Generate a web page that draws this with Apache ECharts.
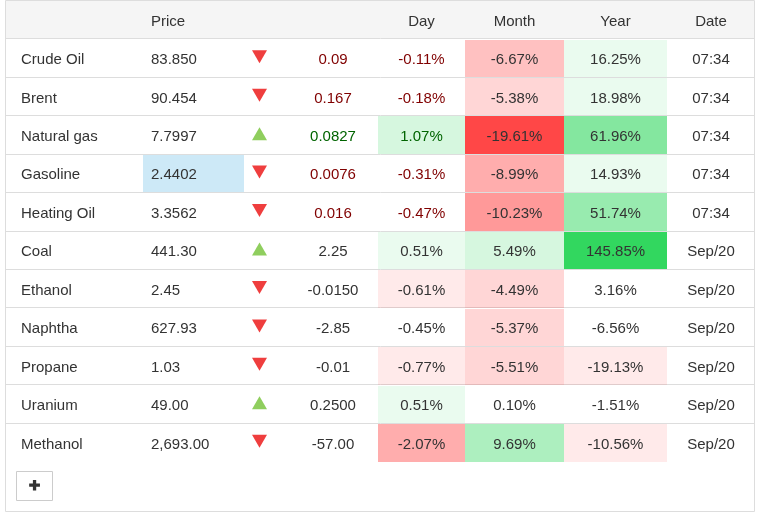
<!DOCTYPE html>
<html lang="en">
<head>
    <meta charset="UTF-8">
    <title>Energy prices</title>
    <script src="https://cdn.jsdelivr.net/npm/echarts@6/dist/echarts.min.js"></script>
    <style>
        html, body { margin: 0; padding: 0; background: #fff; }
    </style>
</head>
<body>
<div id="main" style="width: 760px;height: 518px;"></div>
<script type="text/javascript">
    var names = ['Crude Oil', 'Brent', 'Natural gas', 'Gasoline', 'Heating Oil', 'Coal', 'Ethanol', 'Naphtha', 'Propane', 'Uranium', 'Methanol'];
    var prices = ['83.850', '90.454', '7.7997', '2.4402', '3.3562', '441.30', '2.45', '627.93', '1.03', '49.00', '2,693.00'];
    var trends = ['down', 'down', 'up', 'down', 'down', 'up', 'down', 'down', 'down', 'up', 'down'];
    var changes = ['0.09', '0.167', '0.0827', '0.0076', '0.016', '2.25', '-0.0150', '-2.85', '-0.01', '0.2500', '-57.00'];
    var dayPct = [-0.11, -0.18, 1.07, -0.31, -0.47, 0.51, -0.61, -0.45, -0.77, 0.51, -2.07];
    var monthPct = [-6.67, -5.38, -19.61, -8.99, -10.23, 5.49, -4.49, -5.37, -5.51, 0.10, 9.69];
    var yearPct = [16.25, 18.98, 61.96, 14.93, 51.74, 145.85, 3.16, -6.56, -19.13, -1.51, -10.56];
    var dates = ['07:34', '07:34', '07:34', '07:34', '07:34', 'Sep/20', 'Sep/20', 'Sep/20', 'Sep/20', 'Sep/20', 'Sep/20'];
    var headers = ['Price', 'Day', 'Month', 'Year', 'Date'];

    // layout, x is in page pixels
    var FONT = '"Liberation Sans", Arial, sans-serif';
    var FONT_SIZE = 15;
    var TEXT = '#333333';
    var TEXT_DROP = 2;
    var headerX = [168, 421.5, 514.5, 615.5, 711];
    var nameCol = {left: 6, right: 143, textX: 21};
    var priceCol = {left: 143, right: 244, textX: 151};
    var trendX = 259.5;
    var changeCol = {left: 288, right: 378};
    var dayCol = {left: 378, right: 465};
    var monthCol = {left: 465, right: 564};
    var yearCol = {left: 564, right: 667};
    var dateCol = {left: 667, right: 755};

    // shade goes up one step for every "step" of percent move
    function shade(v, step) {
        var level = Math.min(Math.floor(Math.abs(v) / step), 10);
        if (level === 0) return null;
        var base = v > 0 ? '50,215,95' : '255,51,51';
        return 'rgba(' + base + ',' + level / 10 + ')';
    }

    // row was updated today, so change and day text are coloured
    function liveColor(i, v) {
        if (dates[i] !== '07:34') return TEXT;
        return v > 0 && trends[i] === 'up' ? '#006400' : '#800000';
    }

    var cells = [];
    names.forEach(function (name, i) {
        var chg = parseFloat(changes[i]);
        cells.push({row: i, col: nameCol, text: name, color: TEXT});
        cells.push({row: i, col: priceCol, text: prices[i], color: TEXT,
            fill: name === 'Gasoline' ? '#cde9f7' : null});
        cells.push({row: i, col: changeCol, text: changes[i], color: liveColor(i, chg)});
        cells.push({row: i, col: dayCol, text: dayPct[i].toFixed(2) + '%', color: liveColor(i, dayPct[i]),
            fill: shade(dayPct[i], 0.5)});
        cells.push({row: i, col: monthCol, text: monthPct[i].toFixed(2) + '%', color: TEXT,
            fill: shade(monthPct[i], 2)});
        cells.push({row: i, col: yearCol, text: yearPct[i].toFixed(2) + '%', color: TEXT,
            fill: shade(yearPct[i], 10)});
        cells.push({row: i, col: dateCol, text: dates[i], color: TEXT});
    });

    function renderCell(params, api) {
        var c = cells[params.dataIndex];
        var lt = api.coord([c.col.left, c.row]);
        var rt = api.coord([c.col.right, c.row]);
        var band = api.size([0, 1])[1];
        var top = Math.round(lt[1] - band / 2) + 1;
        var bottom = Math.round(lt[1] + band / 2);
        var children = [];
        if (c.fill) {
            children.push({
                type: 'rect',
                shape: {x: lt[0], y: top, width: rt[0] - lt[0], height: bottom - top},
                style: {fill: c.fill}
            });
        }
        children.push({
            type: 'text',
            style: {
                x: c.col.textX || (lt[0] + rt[0]) / 2,
                y: Math.round(lt[1] + 0.4) + TEXT_DROP,
                text: c.text,
                fill: c.color,
                font: FONT_SIZE + 'px ' + FONT,
                align: c.col.textX ? 'left' : 'center',
                verticalAlign: 'middle'
            }
        });
        return {type: 'group', children: children};
    }

    function trendPoints(kind) {
        var out = [];
        trends.forEach(function (t, i) {
            if (t === kind) out.push([trendX, i]);
        });
        return out;
    }

    var myChart = echarts.init(document.getElementById('main'), null, {renderer: 'canvas'});

    var option = {
        animation: false,
        backgroundColor: '#ffffff',
        textStyle: {fontFamily: FONT},
        grid: {left: 6, right: 5, top: 38.5, height: 423, containLabel: false},
        xAxis: {
            type: 'value',
            position: 'top',
            min: 6,
            max: 755,
            splitLine: {show: false},
            axisLine: {show: false},
            axisTick: {show: false},
            axisLabel: {
                customValues: headerX,
                margin: 17,
                color: TEXT,
                fontFamily: FONT,
                fontSize: FONT_SIZE,
                verticalAlign: 'middle',
                hideOverlap: false,
                formatter: function (v) {
                    return headers[headerX.indexOf(v)];
                }
            }
        },
        yAxis: {
            type: 'category',
            inverse: true,
            data: names,
            axisLine: {show: false},
            axisTick: {show: false},
            axisLabel: {show: false},
            splitLine: {show: true, showMaxLine: false, interval: 0, lineStyle: {color: '#dddddd', width: 1}}
        },
        series: [
            {
                type: 'custom',
                silent: true,
                clip: false,
                renderItem: renderCell,
                data: cells.map(function (c) { return [c.col.left, c.row]; }),
                encode: {x: 0, y: 1},
                z: 1
            },
            {
                type: 'scatter',
                silent: true,
                symbol: 'triangle',
                symbolSize: [15, 13],
                symbolOffset: [0, -1],
                itemStyle: {color: '#8fce5e', opacity: 1},
                data: trendPoints('up'),
                z: 3
            },
            {
                type: 'scatter',
                silent: true,
                symbol: 'triangle',
                symbolSize: [15, 13],
                symbolRotate: 180,
                symbolOffset: [0, -1],
                itemStyle: {color: '#ef3e3e', opacity: 1},
                data: trendPoints('down'),
                z: 3
            }
        ],
        graphic: [
            {   // panel border, header band and the + button
                type: 'rect', z: -2, silent: true,
                shape: {x: 5.5, y: 0.5, width: 749, height: 511},
                style: {fill: '#ffffff', stroke: '#dddddd', lineWidth: 1}
            },
            {
                type: 'rect', z: -1, silent: true,
                shape: {x: 6, y: 1, width: 748, height: 37},
                style: {fill: '#f5f5f5'}
            },
            {
                type: 'rect', z: 5, silent: true,
                shape: {x: 16.5, y: 471.5, width: 36, height: 29},
                style: {fill: '#ffffff', stroke: '#cccccc', lineWidth: 1}
            },
            {
                type: 'text', z: 6, silent: true,
                style: {
                    x: 34.5, y: 486, text: '+', fill: '#333333', stroke: '#333333', lineWidth: 1.2,
                    font: 'bold 19px ' + FONT, align: 'center', verticalAlign: 'middle'
                }
            }
        ]
    };

    myChart.setOption(option);
</script>
</body>
</html>
